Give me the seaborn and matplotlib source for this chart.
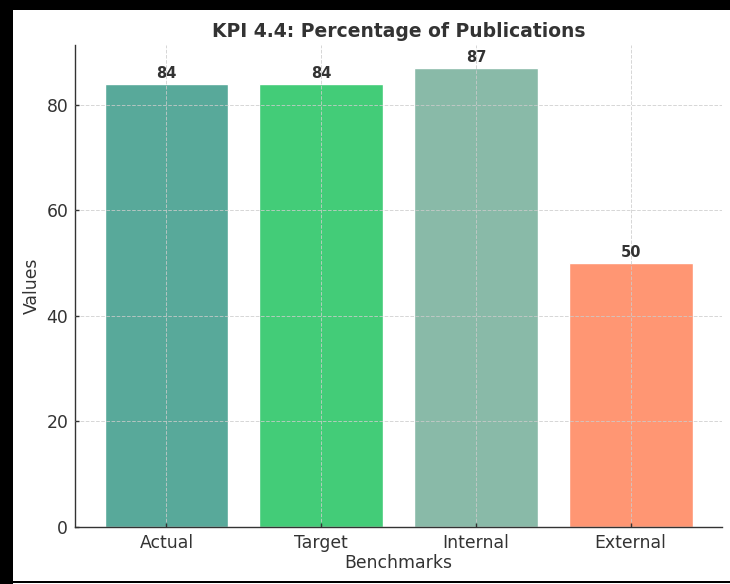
import matplotlib
matplotlib.use("Agg")
import matplotlib.pyplot as plt
from matplotlib.patches import Rectangle
import seaborn as sns
import pandas as pd

categories = ["Actual", "Target", "Internal", "External"]
values = [84, 84, 87, 50]
colors = ["#58a99a", "#43cc78", "#89baa8", "#ff9673"]

sns.set_style("white")
plt.rcParams["font.family"] = ["DejaVu Sans"]
plt.rcParams["text.color"] = "#333333"
plt.rcParams["axes.labelcolor"] = "#333333"
plt.rcParams["xtick.color"] = "#333333"
plt.rcParams["ytick.color"] = "#333333"

df = pd.DataFrame({"Benchmarks": categories, "Values": values})

fig = plt.figure(figsize=(7.3, 5.84), dpi=100)
ax = fig.add_axes([0.103, 0.098, 0.886, 0.825])

sns.barplot(data=df, x="Benchmarks", y="Values", hue="Benchmarks",
            palette=colors, width=0.8, saturation=1, legend=False, ax=ax)

ax.set_axisbelow(False)
ax.grid(True, linestyle="--", color="#cccccc", linewidth=0.7, alpha=0.8)
ax.set_ylim(0, 91.35)
ax.set_xlim(-0.59, 3.59)
sns.despine(ax=ax)
for sp in ["left", "bottom"]:
    ax.spines[sp].set_color("#333333")
    ax.spines[sp].set_linewidth(1.0)
ax.tick_params(axis="both", labelsize=12.4, length=3, width=1, direction="in",
               pad=5, left=True, bottom=True)

for i, v in enumerate(values):
    ax.text(i, v + 0.6, str(v), ha="center", va="bottom", fontsize=10.5,
            fontweight="bold", color="#333333")

ax.set_title("KPI 4.4: Percentage of Publications", fontsize=13.5,
             fontweight="bold", color="#333333", pad=6)
ax.set_xlabel("Benchmarks", fontsize=12.4, labelpad=2)
ax.set_ylabel("Values", fontsize=12.4, labelpad=4)

# screenshot frame
fig.add_artist(Rectangle((0, 1 - 10 / 584), 1, 10 / 584, transform=fig.transFigure,
                         facecolor="black", edgecolor="none"))
fig.add_artist(Rectangle((0, 0), 13 / 730, 1, transform=fig.transFigure,
                         facecolor="black", edgecolor="none"))
fig.add_artist(Rectangle((0, 1 / 584), 1, 2 / 584, transform=fig.transFigure,
                         facecolor="black", edgecolor="none"))

fig.savefig("out.png", dpi=100)
